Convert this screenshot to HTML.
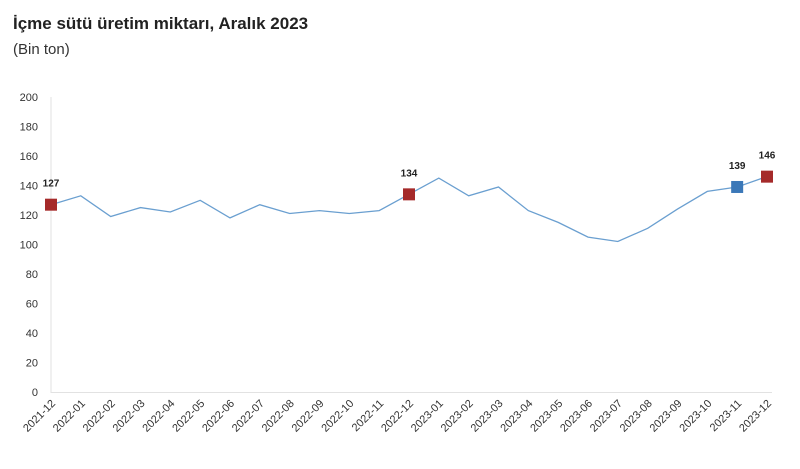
<!DOCTYPE html>
<html><head><meta charset="utf-8"><style>
body{margin:0;background:#fff;width:800px;height:464px;overflow:hidden;font-family:"Liberation Sans",sans-serif}
</style></head><body>
<svg id="s" width="800" height="464" xmlns="http://www.w3.org/2000/svg" font-family="Liberation Sans, sans-serif">
<text x="13" y="29" font-size="17" font-weight="bold" fill="#222">İçme sütü üretim miktarı, Aralık 2023</text>
<text x="13" y="54" font-size="15" fill="#333">(Bin ton)</text>
<line x1="51" y1="97" x2="51" y2="393" stroke="#e2e2e2"/>
<line x1="51" y1="392.5" x2="772" y2="392.5" stroke="#e2e2e2"/>
<g id="g"></g>
</svg>
<script>
var v=[127,133,119,125,122,130,118,127,121,123,121,123,134,145,133,139,123,115,105,102,111,124,136,139,146];
var labs=[];for(var i=0;i<25;i++){var y=2021+Math.floor((i+11)/12),m=((i+11)%12)+1;labs.push(y+"-"+(m<10?"0":"")+m);}
var X=function(i){return 51+i*(716/24)},Y=function(d){return 392-d*1.475};
var h="";
for(var t=0;t<=200;t+=20){h+='<text x="38" y="'+(Y(t)+4)+'" font-size="11" fill="#333" text-anchor="end">'+t+'</text>';}
var p=v.map(function(d,i){return X(i).toFixed(1)+","+Y(d).toFixed(1)}).join(" ");
h+='<polyline points="'+p+'" fill="none" stroke="#6a9fd0" stroke-width="1.3"/>';
labs.forEach(function(l,i){var x=X(i)+5,y=404;h+='<text x="'+x+'" y="'+y+'" font-size="11" fill="#333" text-anchor="end" transform="rotate(-45 '+x+' '+y+')">'+l+'</text>';});
[[0,"#a52a2a",127],[12,"#a52a2a",134],[23,"#3b78b8",139],[24,"#a52a2a",146]].forEach(function(a){var x=X(a[0]),y=Y(v[a[0]]);
h+='<rect x="'+(x-6)+'" y="'+(y-6)+'" width="12" height="12" fill="'+a[1]+'"/>';
h+='<text x="'+(a[0]==0?x:x)+'" y="'+(y-18)+'" font-size="10" font-weight="bold" fill="#222" text-anchor="middle">'+a[2]+'</text>';});
document.getElementById("g").innerHTML=h;
</script>
</body></html>
